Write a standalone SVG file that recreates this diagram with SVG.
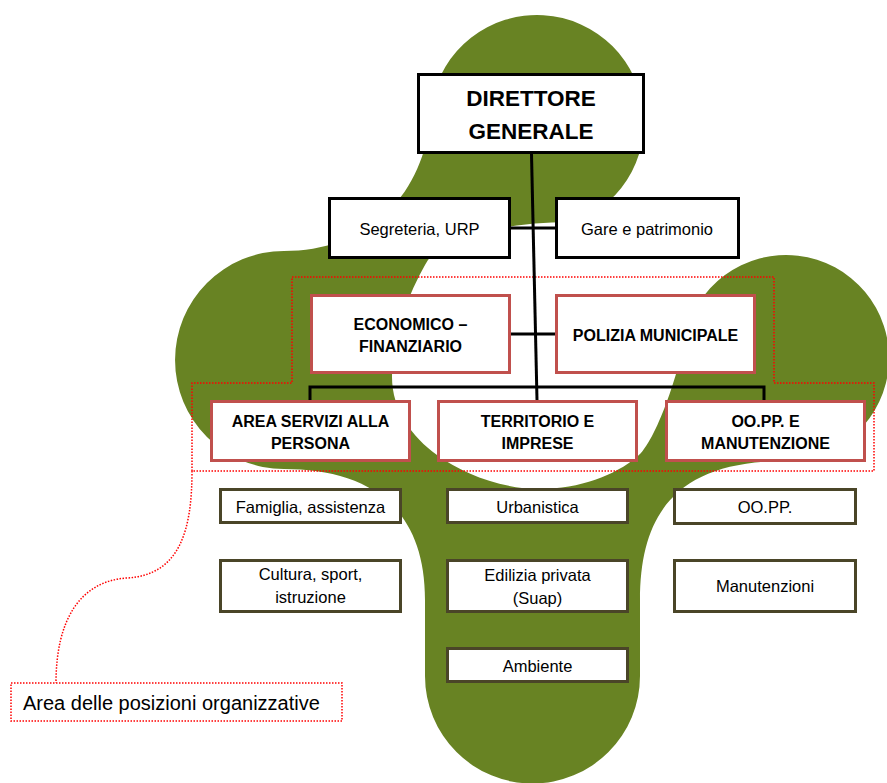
<svg xmlns="http://www.w3.org/2000/svg" width="887" height="783" viewBox="0 0 887 783">
<style>
 .bg{fill:#688323}
 .blk{fill:#fff;stroke:#000;stroke-width:3}
 .red{fill:#fff;stroke:#c0504d;stroke-width:3}
 .sub{fill:#fff;stroke:#4a4528;stroke-width:3}
 .conn{fill:none;stroke:#000;stroke-width:3}
 .dot{fill:none;stroke:#ff0000;stroke-width:1.5;stroke-dasharray:1.5 1.5}
 text{font-family:"Liberation Sans",Arial,sans-serif;fill:#000;text-anchor:middle}
 .b{font-weight:bold;font-size:16px}
 .r{font-size:16.5px}
 .t{font-weight:bold;font-size:22.5px}
 .lab{font-size:20px;text-anchor:start}
</style>
<rect width="887" height="783" fill="#fff"/>
<path id="background" class="bg" d="M 284,251 C 365,251 420,200 430,122 A 107 107 0 1 1 575,222 C 530,222 455,228 428,260 C 414,283 392,330 392,377 C 392,410 412,437 437,455 C 462,473 500,489 540,489 C 580,489 615,475 637,457 C 657,441 679,370 684.6,340 A 103 103 0 1 1 786,461 C 680,461 640,510 640,600 L 640,676 A 107.5 107.5 0 0 1 425,676 L 425,600 C 425,500 360,469 284,469 A 109 109 0 0 1 284,251 Z"/>
<path id="po-area" class="dot" d="M292,277 H774 V383 H874 V471 H192 V383 H292 Z"/>
<path id="callout-line" class="dot" d="M192,471 C192,530 180,575 127,578 C80,581 56,620 56,683"/>
<g id="connectors">
 <line class="conn" x1="531.5" y1="154" x2="537" y2="400"/>
 <line class="conn" x1="511" y1="228" x2="555" y2="228"/>
 <line class="conn" x1="511" y1="334" x2="555" y2="334"/>
 <path class="conn" d="M310,400 V387 H764 V400"/>
</g>
<g id="direttore">
 <rect class="blk" x="418.5" y="74.5" width="225" height="78"/>
 <text class="t" x="531" y="106">DIRETTORE</text>
 <text class="t" x="531" y="139">GENERALE</text>
</g>
<g id="segreteria">
 <rect class="blk" x="329.5" y="198.5" width="180" height="59"/>
 <text class="r" x="419.5" y="235">Segreteria, URP</text>
</g>
<g id="gare">
 <rect class="blk" x="556.5" y="198.5" width="182" height="59"/>
 <text class="r" x="647" y="235">Gare e patrimonio</text>
</g>
<g id="economico">
 <rect class="red" x="311.5" y="295.5" width="198" height="77"/>
 <text class="b" x="410.5" y="330">ECONOMICO –</text>
 <text class="b" x="410.5" y="352">FINANZIARIO</text>
</g>
<g id="polizia">
 <rect class="red" x="556.5" y="295.5" width="198" height="77"/>
 <text class="b" x="655.5" y="341">POLIZIA MUNICIPALE</text>
</g>
<g id="area-servizi">
 <rect class="red" x="211.5" y="401.5" width="198" height="59"/>
 <text class="b" x="310.5" y="427">AREA SERVIZI ALLA</text>
 <text class="b" x="310.5" y="449">PERSONA</text>
</g>
<g id="territorio">
 <rect class="red" x="438.5" y="401.5" width="198" height="59"/>
 <text class="b" x="537.5" y="427">TERRITORIO E</text>
 <text class="b" x="537.5" y="449">IMPRESE</text>
</g>
<g id="oopp-manutenzione">
 <rect class="red" x="666.5" y="401.5" width="198" height="59"/>
 <text class="b" x="765.5" y="427">OO.PP. E</text>
 <text class="b" x="765.5" y="449">MANUTENZIONE</text>
</g>
<g id="famiglia">
 <rect class="sub" x="220.5" y="489.5" width="180" height="33"/>
 <text class="r" x="310.5" y="513">Famiglia, assistenza</text>
</g>
<g id="cultura">
 <rect class="sub" x="220.5" y="560.5" width="180" height="51"/>
 <text class="r" x="310.5" y="580">Cultura, sport,</text>
 <text class="r" x="310.5" y="603">istruzione</text>
</g>
<g id="urbanistica">
 <rect class="sub" x="447.5" y="489.5" width="180" height="33"/>
 <text class="r" x="537.5" y="513">Urbanistica</text>
</g>
<g id="edilizia">
 <rect class="sub" x="447.5" y="560.5" width="180" height="51"/>
 <text class="r" x="537.5" y="580.5">Edilizia privata</text>
 <text class="r" x="537.5" y="603.5">(Suap)</text>
</g>
<g id="ambiente">
 <rect class="sub" x="447.5" y="648.5" width="180" height="33"/>
 <text class="r" x="537.5" y="672">Ambiente</text>
</g>
<g id="oopp">
 <rect class="sub" x="674.5" y="489.5" width="181" height="34"/>
 <text class="r" x="765" y="513">OO.PP.</text>
</g>
<g id="manutenzioni">
 <rect class="sub" x="674.5" y="560.5" width="181" height="51"/>
 <text class="r" x="765" y="592">Manutenzioni</text>
</g>
<g id="label-po">
 <rect class="dot" x="11" y="683" width="331" height="38" fill="#fff"/>
 <text class="lab" x="23" y="710">Area delle posizioni organizzative</text>
</g>
</svg>
